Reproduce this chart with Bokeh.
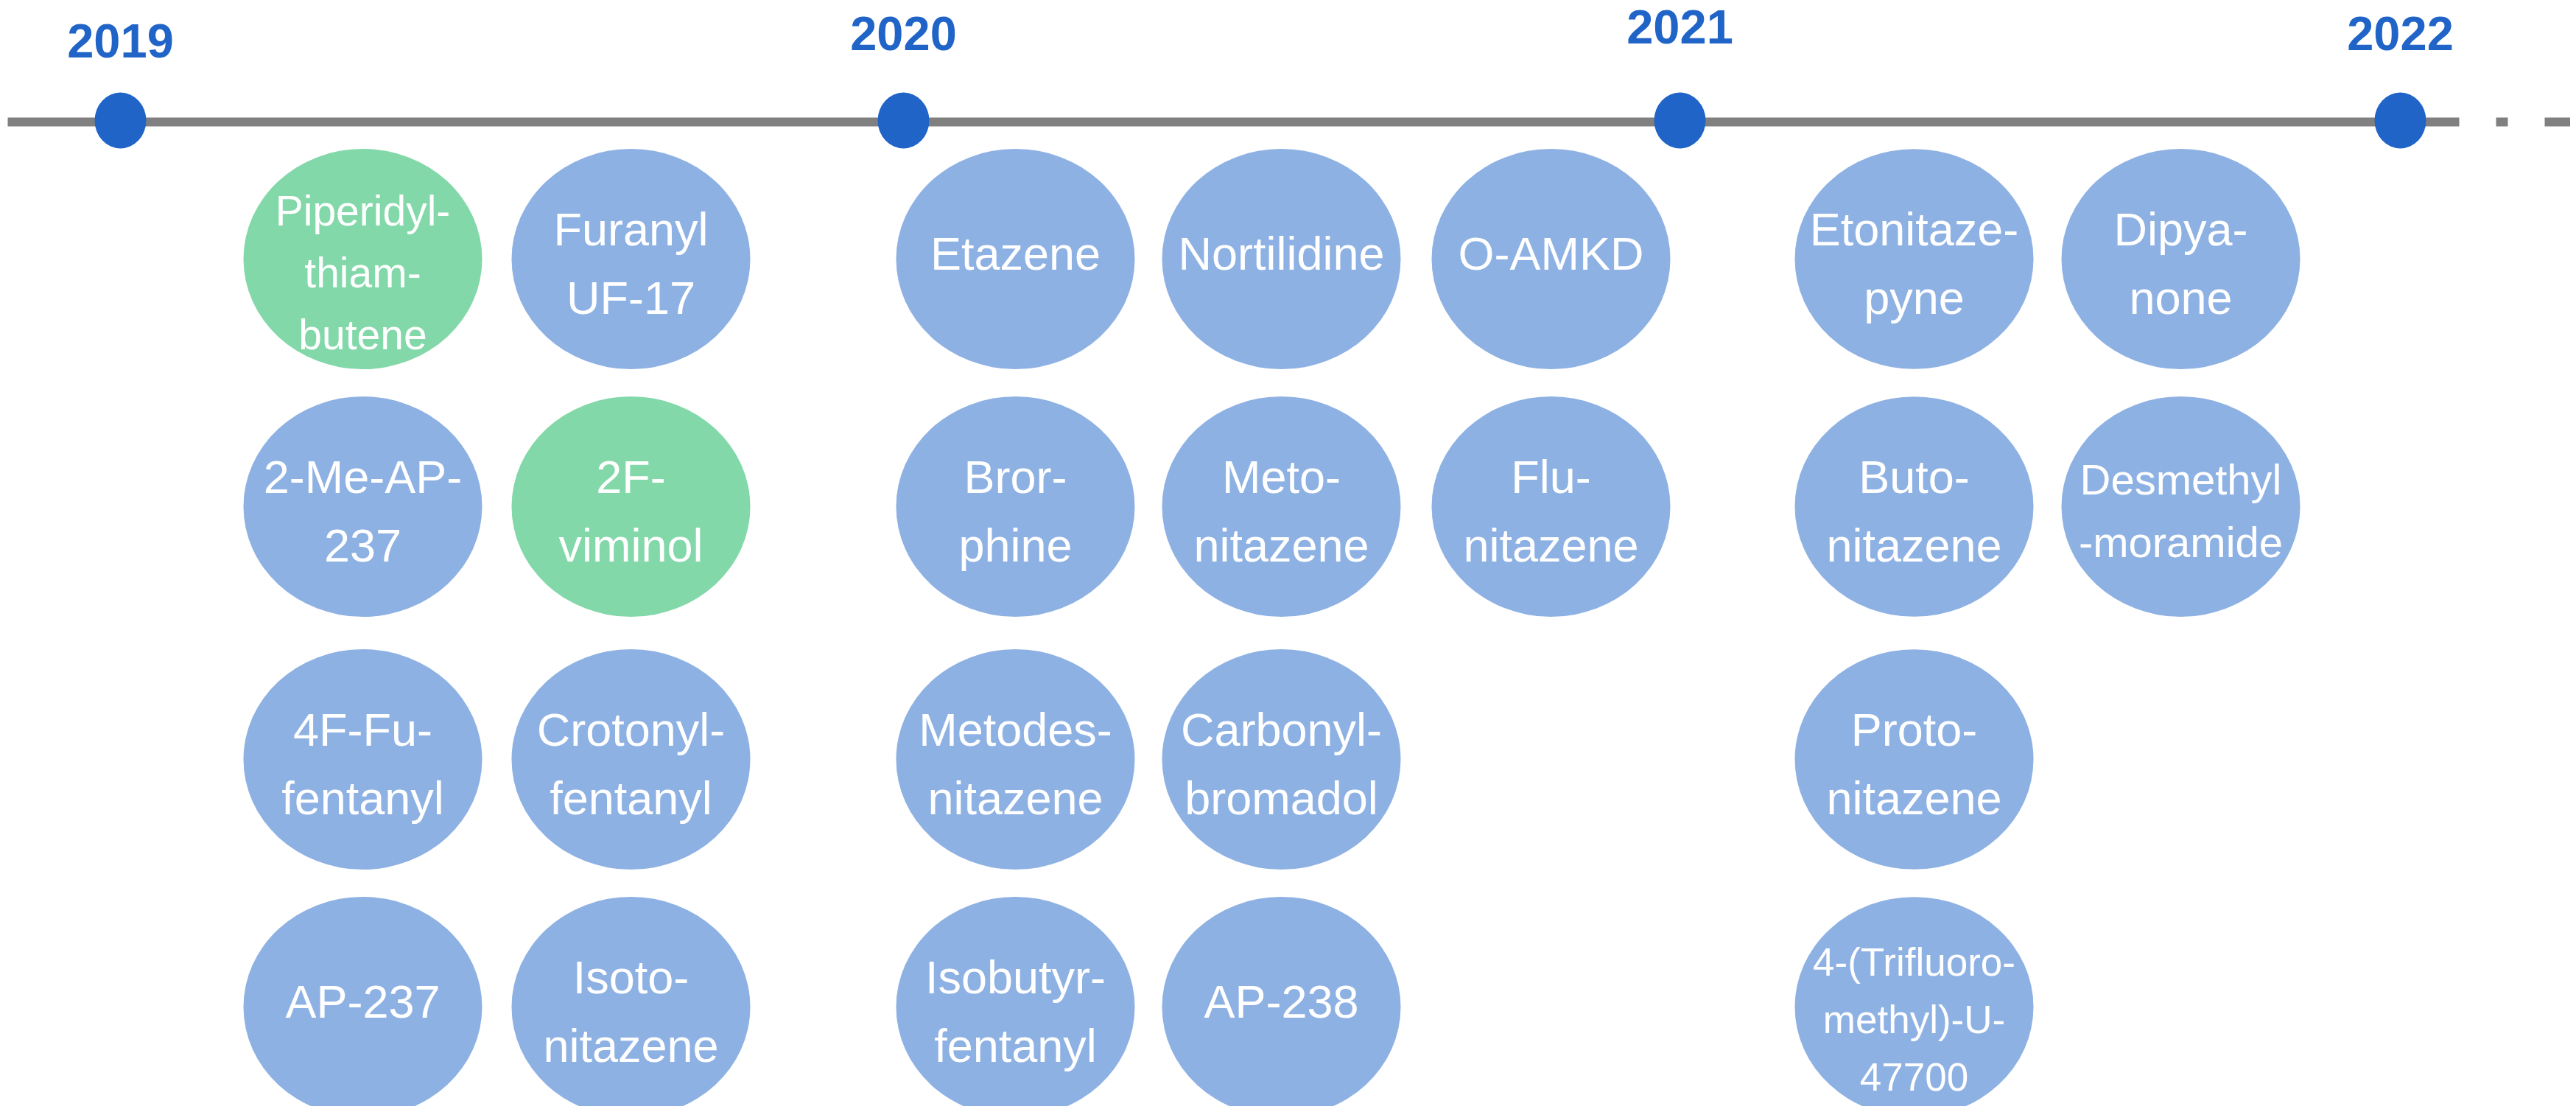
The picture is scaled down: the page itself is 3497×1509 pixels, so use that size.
from bokeh.plotting import figure
from bokeh.models import Range1d, ColumnDataSource
from bokeh.embed import file_html
from bokeh.resources import INLINE
from bokeh.core.properties import value

# ---------------- DATA ----------------
years = [2019, 2020, 2021, 2022]
year_labels = ["2019", "2020", "2021", "2022"]

substances = [
    "Piperidyl-\nthiam-\nbutene", "Furanyl\nUF-17",
    "2-Me-AP-\n237", "2F-\nviminol",
    "4F-Fu-\nfentanyl", "Crotonyl-\nfentanyl",
    "AP-237", "Isoto-\nnitazene",
    "Etazene", "Nortilidine", "O-AMKD",
    "Bror-\nphine", "Meto-\nnitazene", "Flu-\nnitazene",
    "Metodes-\nnitazene", "Carbonyl-\nbromadol",
    "Isobutyr-\nfentanyl", "AP-238",
    "Etonitaze-\npyne", "Dipya-\nnone",
    "Buto-\nnitazene", "Desmethyl\n-moramide",
    "Proto-\nnitazene",
    "4-(Trifluoro-\nmethyl)-U-\n47700",
]
substance_year = [2019] * 8 + [2020] * 10 + [2021] * 6
substance_col = [0, 1, 0, 1, 0, 1, 0, 1,
                 0, 1, 2, 0, 1, 2, 0, 1, 0, 1,
                 0, 1, 0, 1, 0, 0]
substance_row = [0, 0, 1, 1, 2, 2, 3, 3,
                 0, 0, 0, 1, 1, 1, 2, 2, 3, 3,
                 0, 0, 1, 1, 2, 3]
substance_group = ["green", "blue", "blue", "green", "blue", "blue", "blue", "blue"] + ["blue"] * 16

# ---------------- LAYOUT / STYLE ----------------
W, H = 3489, 1501
year_x = {2019: 163, 2020: 1226, 2021: 2280, 2022: 3258}
year_label_mid = {2019: 55, 2020: 45, 2021: 36, 2022: 45}
dot_y = 163
line_y = 165
col_x = {2019: [492, 856], 2020: [1378, 1739, 2105], 2021: [2598, 2960]}
row_y = [351, 687, 1030, 1366]
bubble_w, bubble_h = 324, 299
font_override = {"Piperidyl-\nthiam-\nbutene": 57, "Desmethyl\n-moramide": 58,
                 "4-(Trifluoro-\nmethyl)-U-\n47700": 53}
default_fs = 63
colors = {"green": "#82D8A8", "blue": "#8EB1E3"}
dark_blue = "#2064C8"
gray = "#808080"
FONT = "Liberation Sans"

p = figure(width=W, height=H, x_range=Range1d(0, W), y_range=Range1d(H, 0),
           output_backend="svg", toolbar_location=None, min_border=0,
           background_fill_color="white", border_fill_color="white")
p.axis.visible = False
p.grid.visible = False
p.outline_line_color = None

# timeline
x_start = year_x[2019] - 153
x_end_solid = year_x[2022] + 80
p.segment(x0=[x_start], y0=[line_y], x1=[x_end_solid], y1=[line_y],
          line_color=gray, line_width=12, line_cap="butt")
p.segment(x0=[x_end_solid + 50], y0=[line_y], x1=[W + 20], y1=[line_y],
          line_color=gray, line_width=12, line_cap="butt", line_dash="16 50 80 50")

# year dots and labels
ysrc = ColumnDataSource(dict(
    x=[year_x[y] for y in years],
    y=[dot_y] * len(years),
    ly=[year_label_mid[y] for y in years],
    label=year_labels,
))
p.ellipse(x="x", y="y", width=70, height=76, source=ysrc,
          fill_color=dark_blue, line_color=None)
p.text(x="x", y="ly", text="label", source=ysrc, text_align="center",
       text_baseline="middle", text_font=value(FONT), text_font_style="bold",
       text_font_size="65px", text_color=dark_blue)

# bubbles
bx = [col_x[y][c] for y, c in zip(substance_year, substance_col)]
by = [row_y[r] for r in substance_row]
bsrc = ColumnDataSource(dict(x=bx, y=by,
                             color=[colors[g] for g in substance_group]))
p.ellipse(x="x", y="y", width=bubble_w, height=bubble_h, source=bsrc,
          fill_color="color", line_color=None)

# bubble texts (one glyph per text line)
tx, ty, tt, tfs = [], [], [], []
for name, cx, cy in zip(substances, bx, by):
    lines = name.split("\n")
    n = len(lines)
    fs = font_override.get(name, default_fs)
    lh = 1.47 * fs
    base = cy + fs * (0.19 + 0.22 * (n - 1)) - 0.31 * fs
    for k, ln in enumerate(lines):
        tx.append(cx)
        ty.append(base + (k - (n - 1) / 2) * lh)
        tt.append(ln)
        tfs.append(f"{fs}px")
tsrc = ColumnDataSource(dict(x=tx, y=ty, text=tt, fs=tfs))
p.text(x="x", y="y", text="text", source=tsrc, text_align="center",
       text_baseline="alphabetic", text_font=value(FONT), text_font_size="fs",
       text_color="white")

open("out.html", "w").write(file_html(p, INLINE))
